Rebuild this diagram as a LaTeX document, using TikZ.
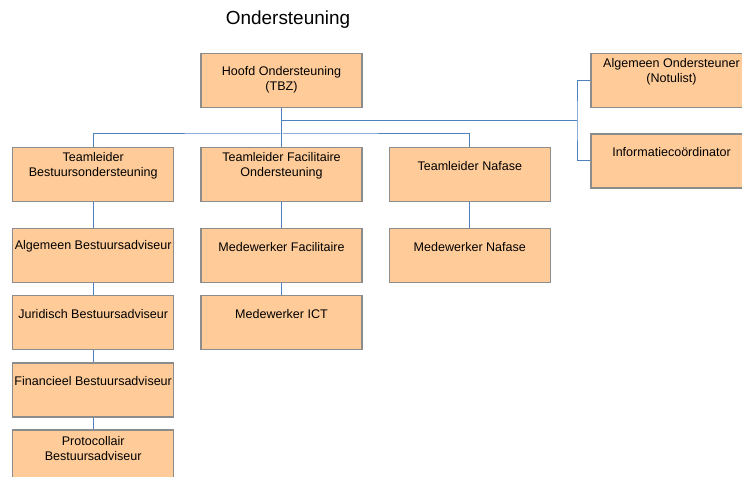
\documentclass[tikz,border=0pt]{standalone}
\usepackage{fontspec}
\setmainfont{Liberation Sans}
\definecolor{boxfill}{RGB}{255,204,153}
\definecolor{boxline}{RGB}{140,140,140}
\definecolor{connblue}{RGB}{79,129,189}
\tikzset{
  box/.style={draw=boxline, line width=0.9pt, fill=boxfill, minimum width=120.75pt, minimum height=40.5pt, inner sep=0pt},
  txt/.style={anchor=center, yshift=-14.25pt, align=center, font=\fontsize{9.4}{11.3}\selectfont},
  conn/.style={draw=connblue, line width=0.75pt}
}
\begin{document}
\begin{tikzpicture}[x=0.75pt, y=-0.75pt]
            \useasboundingbox (0,0) rectangle (742,477);
            \clip (0,0) rectangle (742,477);

            \node[font=\fontsize{14.2}{17}\selectfont] (title) at (288,20) {Ondersteuning};

            % top
            \node[box, label={[txt, yshift=-6pt]north:{Hoofd Ondersteuning\\(TBZ)}}] (hoofd) at (281.5,80.5) {};
            \node[box, label={[txt]north:{Algemeen Ondersteuner\\(Notulist)}}] (notulist) at (671.5,80.5) {};
            \node[box, label={[txt]north:Informatieco\"ordinator}] (info) at (671.5,161) {};

            % teamleiders
            \node[box, label={[txt]north:{Teamleider\\Bestuursondersteuning}}] (tlb) at (93.2,174.5) {};
            \node[box, label={[txt]north:{Teamleider Facilitaire\\Ondersteuning}}] (tlf) at (281.5,174.5) {};
            \node[box, label={[txt]north:Teamleider Nafase}] (tln) at (469.8,174.5) {};

            % medewerkers
            \node[box, label={[txt]north:Algemeen Bestuursadviseur}] (algb) at (93.2,255.3) {};
            \node[box, label={[txt]north:Juridisch Bestuursadviseur}] (jur) at (93.2,322.5) {};
            \node[box, label={[txt]north:Financieel Bestuursadviseur}] (fin) at (93.2,390) {};
            \node[box, label={[txt]north:{Protocollair\\Bestuursadviseur}}] (prot) at (93.2,457) {};
            \node[box, label={[txt]north:Medewerker Facilitaire}] (mfac) at (281.5,255.3) {};
            \node[box, label={[txt]north:Medewerker ICT}] (mict) at (281.5,322.5) {};
            \node[box, label={[txt]north:Medewerker Nafase}] (mnaf) at (469.8,255.3) {};

            \coordinate (side) at (281.5,121);
            \coordinate (bus) at (281.5,134);
            \coordinate (brk) at (577,121);

            \draw[conn] (hoofd.south) -- (bus);
            \draw[conn] (tlb.north) |- (bus) -| (tln.north);
            \draw[conn] (bus) -- (tlf.north);
            \draw[conn] (side) -- (brk);
            \draw[conn] (notulist.west) -| (brk) |- (info.west);

            \draw[conn] (tlb.south) -- (algb.north);
            \draw[conn] (algb.south) -- (jur.north);
            \draw[conn] (jur.south) -- (fin.north);
            \draw[conn] (fin.south) -- (prot.north);
            \draw[conn] (tlf.south) -- (mfac.north);
            \draw[conn] (mfac.south) -- (mict.north);
            \draw[conn] (tln.south) -- (mnaf.north);
        \end{tikzpicture}
\end{document}
